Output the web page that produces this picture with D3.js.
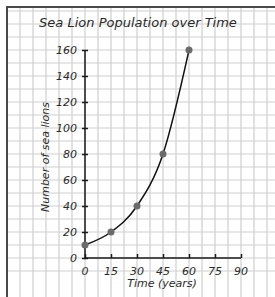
<!DOCTYPE html>
<html>
<head>
<meta charset="utf-8">
<script src="https://cdn.jsdelivr.net/npm/d3@7"></script>
<style>
  html, body { margin: 0; padding: 0; background: #fff; }
  text { font-family: "DejaVu Sans", sans-serif; font-style: italic; fill: #2a2a2a; }
</style>
</head>
<body>
<script>
// data
let years = [0, 15, 30, 45, 60];
let population = [10, 20, 40, 80, 160];
let xTicks = [0, 15, 30, 45, 60, 75, 90];
let yTicks = [0, 20, 40, 60, 80, 100, 120, 140, 160];
let title = 'Sea Lion Population over Time';
let xLabel = 'Time (years)';
let yLabel = 'Number of sea lions';

let width = 275;
let height = 297;

let svg = d3.select('body').append('svg')
  .attr('width', width)
  .attr('height', height);

// scales: 15 years and 20 lions both take two grid squares
let x = d3.scaleLinear().domain([0, 90]).range([85, 241]);
let y = d3.scaleLinear().domain([0, 160]).range([258, 50]);

// graph paper grid, one square = 7.5 years / 10 lions
let gridX = d3.range(-45, 150, 7.5);
let gridY = d3.range(-10, 200, 10);

svg.append('g').selectAll('line')
  .data(gridX)
  .enter()
  .append('line')
  .attr('x1', d => x(d)).attr('x2', d => x(d))
  .attr('y1', 7).attr('y2', height)
  .attr('stroke', '#cfcfcf')
  .attr('stroke-width', 1.2);

svg.append('g').selectAll('line')
  .data(gridY)
  .enter()
  .append('line')
  .attr('x1', 7).attr('x2', width)
  .attr('y1', d => y(d)).attr('y2', d => y(d))
  .attr('stroke', '#cfcfcf')
  .attr('stroke-width', 1.2);

// page border (left and top)
svg.append('path')
  .attr('d', `M7,${height} L7,7 L${width},7`)
  .attr('fill', 'none')
  .attr('stroke', '#4a4a4a')
  .attr('stroke-width', 2);

// title
svg.append('text')
  .attr('x', 138)
  .attr('y', 27)
  .attr('text-anchor', 'middle')
  .style('font-size', '13px')
  .text(title);

// axes
let xAxis = d3.axisTop(x).tickValues(xTicks).tickSize(4).tickFormat('');
let gx = svg.append('g').attr('transform', `translate(0,${y(0)})`).call(xAxis);
gx.select('.domain').attr('d', `M${x(0)},0H${x(90)}`);
gx.selectAll('path, line').attr('stroke', '#1a1a1a').attr('stroke-width', 1.5);

svg.append('g').selectAll('text')
  .data(xTicks)
  .enter()
  .append('text')
  .attr('x', d => x(d))
  .attr('y', y(0) + 17)
  .attr('text-anchor', 'middle')
  .style('font-size', '11px')
  .text(d => d);

let yAxis = d3.axisLeft(y).tickValues(yTicks).tickSize(3).tickFormat('');
let gy = svg.append('g').attr('transform', `translate(${x(0)},0)`).call(yAxis);
gy.select('.domain').attr('d', `M0,${y(160)}V${y(0)}`);
gy.selectAll('line').attr('x2', -3).attr('x1', 3);
gy.selectAll('path, line').attr('stroke', '#1a1a1a').attr('stroke-width', 1.5);

svg.append('g').selectAll('text')
  .data(yTicks)
  .enter()
  .append('text')
  .attr('x', x(0) - 8)
  .attr('y', d => y(d) + 4)
  .attr('text-anchor', 'end')
  .style('font-size', '11px')
  .text(d => d);

// axis titles
svg.append('text')
  .attr('x', 162)
  .attr('y', 287)
  .attr('text-anchor', 'middle')
  .style('font-size', '11px')
  .text(xLabel);

svg.append('text')
  .attr('transform', 'translate(49,157) rotate(-90)')
  .attr('text-anchor', 'middle')
  .style('font-size', '11px')
  .text(yLabel);

// curve and points
let points = years.map((d, i) => [d, population[i]]);
let line = d3.line()
  .x(d => x(d[0]))
  .y(d => y(d[1]))
  .curve(d3.curveMonotoneX);

svg.append('path')
  .datum(points)
  .attr('d', line)
  .attr('fill', 'none')
  .attr('stroke', '#111')
  .attr('stroke-width', 1.5);

svg.append('g').selectAll('circle')
  .data(points)
  .enter()
  .append('circle')
  .attr('cx', d => x(d[0]))
  .attr('cy', d => y(d[1]))
  .attr('r', 3.5)
  .attr('fill', '#6b6b6b');
</script>
</body>
</html>
